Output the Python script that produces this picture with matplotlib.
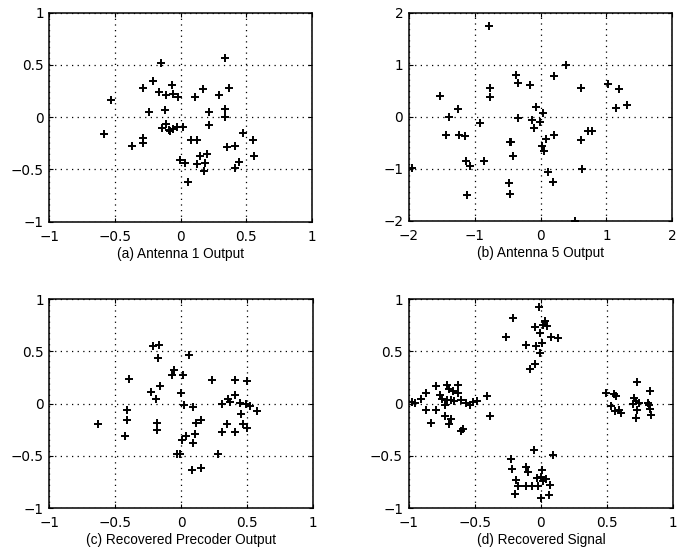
import matplotlib
matplotlib.use("Agg")
import matplotlib.pyplot as plt

plt.rcParams['font.family'] = ['DejaVu Sans']

# (a) Antenna 1 Output
a_x = [0.342, -0.146, -0.207, -0.283, -0.065, -0.166, -0.113, -0.057, -0.022, -0.527,
       0.113, 0.171, 0.293, 0.370, -0.243, -0.121, 0.342, 0.339, 0.217, 0.220,
       -0.585, -0.369, -0.283, -0.283, -0.139, -0.113, -0.088, -0.057, -0.024, 0.019,
       -0.078, 0.078, 0.128, -0.004, 0.034, 0.060, 0.128, 0.151, 0.199, 0.184,
       0.179, 0.352, 0.415, 0.474, 0.555, 0.563, 0.446, 0.418]
a_y = [0.566, 0.514, 0.348, 0.284, 0.307, 0.243, 0.208, 0.224, 0.192, 0.163,
       0.198, 0.272, 0.217, 0.284, 0.045, 0.067, 0.083, 0.000, 0.054, -0.077,
       -0.157, -0.275, -0.195, -0.243, -0.099, -0.067, -0.121, -0.112, -0.093, -0.089,
       -0.134, -0.217, -0.217, -0.412, -0.441, -0.617, -0.447, -0.367, -0.351, -0.435,
       -0.511, -0.284, -0.272, -0.147, -0.217, -0.371, -0.431, -0.489]

# (b) Antenna 5 Output
b_x = [-0.786, 0.392, -0.367, -0.347, -0.164, 0.200, 0.614, 1.024, 1.191, 1.312,
       1.140, -1.520, -0.767, -0.761, -1.247, -1.383, -1.439, -1.232, -1.145, -0.913,
       -0.347, -0.063, 0.043, -0.134, -0.104, -0.013, -0.453, -0.468, -0.422, 0.089,
       0.210, 0.018, 0.053, 0.614, 0.716, 0.786, -1.135, -1.075, -0.852, -1.950,
       0.114, 0.190, 0.634, -0.483, -0.458, -1.120, 0.519]
b_y = [1.750, 0.995, 0.803, 0.643, 0.605, 0.784, 0.554, 0.630, 0.528, 0.234,
       0.176, 0.400, 0.547, 0.387, 0.157, -0.010, -0.342, -0.349, -0.374, -0.112,
       -0.016, 0.195, 0.074, -0.061, -0.214, -0.099, -0.490, -0.477, -0.746, -0.419,
       -0.342, -0.554, -0.650, -0.438, -0.272, -0.272, -0.854, -0.938, -0.854, -0.976,
       -1.066, -1.245, -1.002, -1.270, -1.488, -1.494, -1.994]

# (c) Recovered Precoder Output
c_x = [-0.210, -0.167, -0.177, 0.061, -0.399, -0.058, -0.066, 0.015, 0.235, 0.407,
       0.503, -0.159, -0.232, -0.194, -0.003, 0.020, 0.093, 0.409, 0.354, 0.369,
       0.308, 0.444, 0.490, 0.523, 0.573, 0.457, 0.472, 0.497, 0.412, 0.346,
       0.311, -0.629, -0.409, -0.407, -0.427, -0.182, -0.182, 0.114, 0.149, 0.106,
       0.038, 0.008, 0.088, -0.033, -0.005, 0.278, 0.083, 0.149]
c_y = [0.553, 0.562, 0.438, 0.463, 0.236, 0.319, 0.272, 0.275, 0.224, 0.224,
       0.217, 0.173, 0.112, 0.045, 0.099, -0.010, -0.029, 0.080, 0.045, 0.013,
       -0.003, 0.006, -0.003, -0.022, -0.070, -0.096, -0.192, -0.230, -0.268, -0.198,
       -0.275, -0.192, -0.064, -0.153, -0.310, -0.182, -0.249, -0.182, -0.160, -0.288,
       -0.313, -0.351, -0.374, -0.482, -0.482, -0.482, -0.639, -0.613]

# (d) Recovered Signal
d_x = [-0.014, -0.211, -0.261, 0.034, 0.016, -0.042, 0.044, -0.009, 0.079, 0.132,
       0.009, -0.112, -0.039, -0.004, -0.042, -0.080,
       -0.052, 0.092, -0.223, -0.218, -0.115, -0.095, 0.006, -0.186, -0.173, -0.115,
       -0.069, -0.026, 0.004, 0.016, 0.039, -0.021, 0.069, -0.195, 0.004, 0.060,
       -0.975, -0.955, -0.904, -0.871, -0.790, -0.760, -0.750, -0.710, -0.694, -0.680,
       -0.663, -0.630, -0.627, -0.657, -0.707, -0.728, -0.871, -0.790, -0.828, -0.723,
       -0.694, -0.677, -0.602, -0.589, -0.602, -0.564, -0.539, -0.513, -0.483, -0.407,
       -0.387,
       0.496, 0.551, 0.566, 0.533, 0.561, 0.591, 0.609, 0.727, 0.705, 0.723,
       0.743, 0.700, 0.730, 0.723, 0.824, 0.811, 0.818, 0.829, 0.834]
d_y = [0.927, 0.824, 0.639, 0.789, 0.751, 0.735, 0.741, 0.677, 0.639, 0.629,
       0.585, 0.559, 0.553, 0.489, 0.383, 0.329,
       -0.447, -0.495, -0.527, -0.623, -0.607, -0.655, -0.639, -0.735, -0.792, -0.792,
       -0.792, -0.712, -0.703, -0.741, -0.725, -0.792, -0.783, -0.863, -0.901, -0.875,
       0.016, 0.006, 0.048, 0.102, 0.173, 0.080, 0.045, 0.176, 0.141, 0.038,
       0.118, 0.176, 0.102, 0.026, 0.032, -0.010, -0.058, -0.058, -0.185, -0.121,
       -0.192, -0.144, -0.262, -0.243, 0.038, 0.006, -0.010, 0.013, 0.026, 0.077,
       -0.121,
       0.105, 0.089, 0.070, -0.019, -0.073, -0.064, -0.089, 0.204, 0.058, 0.022,
       0.006, -0.006, -0.058, -0.134, 0.118, 0.006, -0.010, -0.048, -0.105]

captions = ["(a) Antenna 1 Output", "(b) Antenna 5 Output",
            "(c) Recovered Precoder Output", "(d) Recovered Signal"]
ticks_1 = [-1, -0.5, 0, 0.5, 1]
ticks_2 = [-2, -1, 0, 1, 2]
tick_labels_1 = ["\u22121", "\u22120.5", "0", "0.5", "1"]
tick_labels_2 = ["\u22122", "\u22121", "0", "1", "2"]

fig = plt.figure(figsize=(6.86, 5.54), dpi=100)
W, H = 686, 554
boxes = [(49.3, 12.7, 311.7, 221.7), (408.7, 12.7, 672.3, 221.0),
         (49.3, 299.3, 313.0, 508.0), (408.7, 299.3, 673.0, 508.0)]
data = [(a_x, a_y, ticks_1, tick_labels_1), (b_x, b_y, ticks_2, tick_labels_2),
        (c_x, c_y, ticks_1, tick_labels_1), (d_x, d_y, ticks_1, tick_labels_1)]

for (l, t, r, b), (xs, ys, tk, tl), cap in zip(boxes, data, captions):
    ax = fig.add_axes([l / W, 1 - b / H, (r - l) / W, (b - t) / H])
    ax.plot(xs, ys, linestyle='none', marker='+', color='black',
            markersize=5.8, markeredgewidth=1.4)
    ax.set_xlim(tk[0], tk[-1])
    ax.set_ylim(tk[0], tk[-1])
    ax.set_xticks(tk)
    ax.set_yticks(tk)
    ax.set_xticklabels(tl)
    ax.set_yticklabels(tl)
    ax.grid(True, linestyle=(0, (1, 3.5)), color='black', linewidth=0.9)
    ax.tick_params(direction='in', length=3, width=0.8, labelsize=9.8,
                   top=True, right=True, colors='black')
    ax.tick_params(axis='x', pad=6)
    ax.tick_params(axis='y', pad=4)
    for s in ax.spines.values():
        s.set_linewidth(1.1)
        s.set_color('black')
    ax.set_xlabel(cap, fontsize=9.8, labelpad=2,
                  family=['Liberation Sans', 'DejaVu Sans'])

fig.savefig("out.png", dpi=100)
